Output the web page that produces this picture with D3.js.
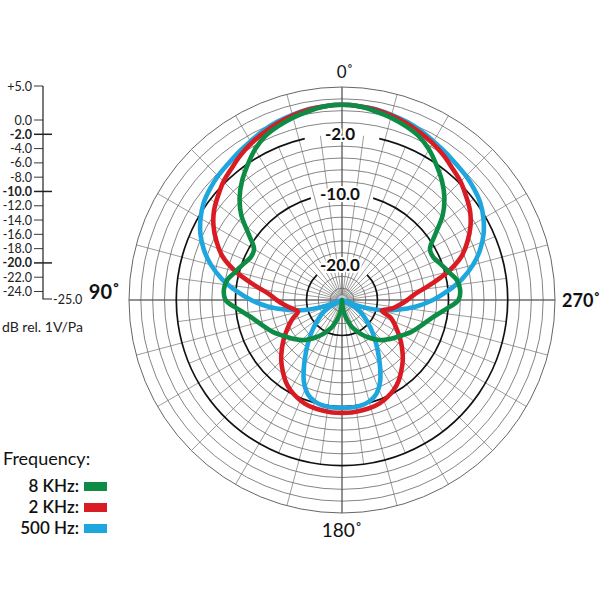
<!DOCTYPE html>
<html><head><meta charset="utf-8">
<script src="https://cdn.jsdelivr.net/npm/d3@7"></script>
<style>
body{margin:0;background:#fff}
svg{display:block;font-family:Lato,"Open Sans",sans-serif}
</style>
</head><body>
<svg id="chart" width="600" height="600"></svg>
<script>
// angles in degrees, measured from 0° (top) towards 90° (left)
const angles = [0,5,10,15,20,25,30,35,40,45,50,55,60,65,70,75,80,85,90,95,100,105,110,115,120,125,130,135,140,145,150,155,160,165,170,175,
  180,185,190,195,200,205,210,215,220,225,230,235,240,245,250,255,260,265,270,275,280,285,290,295,300,305,310,315,320,325,330,335,340,345,350,355];

const green8k = [2.5,2.4,2.0,1.6,1.1,0.5,-0.5,-1.8,-3.1,-4.6,-6.5,-9.0,-10.7,-10.8,-10.2,-9.5,-8.6,-8.3,-8.6,-10.3,-11.8,-12.8,-13.6,-14.3,-15.1,-15.8,-16.4,-17.0,-17.8,-18.6,-19.4,-20.2,-21.0,-22.0,-23.0,-24.0,
  -25.0,-24.0,-23.0,-22.0,-21.0,-20.2,-19.4,-18.6,-17.8,-17.0,-16.4,-15.8,-15.1,-14.3,-13.6,-12.8,-11.8,-10.3,-8.6,-8.3,-8.6,-9.5,-10.2,-10.8,-10.7,-9.0,-6.5,-4.6,-3.1,-1.8,-0.5,0.5,1.1,1.6,2.0,2.4];

const red2k = [2.5,2.4,2.2,1.9,1.5,1.0,0.5,-0.1,-0.8,-1.4,-2.2,-3.0,-4.1,-5.5,-7.1,-9.5,-12.3,-14.6,-15.8,-16.9,-17.9,-18.6,-17.7,-16.8,-15.9,-14.9,-13.9,-12.9,-12.0,-11.1,-10.4,-9.9,-9.5,-9.3,-9.2,-9.1,
  -9.1,-9.1,-9.2,-9.3,-9.5,-9.9,-10.4,-11.1,-12.0,-12.9,-13.9,-14.9,-15.9,-16.8,-17.7,-19.2,-17.9,-16.9,-15.8,-14.6,-12.3,-9.5,-7.1,-5.5,-4.1,-3.0,-2.2,-1.4,-0.8,-0.1,0.5,1.0,1.5,1.9,2.2,2.4];

const blue500 = [2.5,2.4,2.3,2.0,1.7,1.3,0.8,0.4,0.0,-0.3,-0.7,-1.2,-2.0,-3.0,-4.3,-5.9,-7.8,-10.0,-12.2,-14.5,-17.1,-19.6,-22.8,-25.0,-22.5,-21.5,-20.5,-19.2,-17.8,-16.2,-14.3,-12.3,-10.9,-10.2,-9.9,-9.8,
  -9.8,-9.8,-9.9,-10.2,-10.9,-12.3,-14.3,-16.2,-17.8,-19.2,-20.5,-21.5,-22.5,-25.0,-22.8,-19.6,-17.1,-14.5,-12.2,-10.0,-7.8,-5.9,-4.3,-3.0,-2.0,-1.2,-0.7,-0.3,0.0,0.4,0.8,1.3,1.7,2.0,2.3,2.4];

const seriesNames = ["8 KHz:", "2 KHz:", "500 Hz:"];
const seriesColors = ["#0d8c45", "#d91c24", "#1ea6de"];

const scaleTicks = ["+5.0","0.0","-2.0","-4.0","-6.0","-8.0","-10.0","-12.0","-14.0","-16.0","-18.0","-20.0","-22.0","-24.0"];
const scaleTickPos = [5,0,-2,-4,-6,-8,-10,-12,-14,-16,-18,-20,-22,-24];
const majorTicks = ["-2.0","-10.0","-20.0"];
const ringLabels = ["-2.0","-10.0","-20.0"];
const ringIndex = [14, 9, 3];       // which grid ring carries the bold label
const ringCount = 18;
const angleLabels = ["0˚","90˚","180˚","270˚"];

const svg = d3.select("#chart");
const cx = 342, cy = 300, R = 213;
const r = d3.scaleLinear().domain([-25, 5]).range([0, R]);
const ringDb = d3.range(1, ringCount + 1).map(k => -25 + k * 30 / ringCount);

const g = svg.append("g").attr("transform", `translate(${cx},${cy})`);

// spokes: every 15° full length, extra ones at 7.5° inside the -2 ring
const spokes = g.append("g").attr("stroke", "#858585").attr("stroke-width", 0.8);
for (let a = 0; a < 360; a += 7.5) {
  const full = a % 15 === 0;
  const rr = full ? R : r(ringDb[13]);
  const t = a * Math.PI / 180;
  spokes.append("line").attr("x1", 0).attr("y1", 0)
    .attr("x2", rr * Math.sin(t)).attr("y2", -rr * Math.cos(t));
}
// rings
g.append("g").selectAll("circle").data(ringDb).join("circle")
  .attr("r", d => r(d)).attr("fill", "none")
  .attr("stroke", (d, i) => ringIndex.includes(i + 1) ? "none" : "#666")
  .attr("stroke-width", (d, i) => i + 1 === ringCount ? 1 : 0.8);

// axes lines
g.append("line").attr("x1", -R).attr("x2", R).attr("y1", 0).attr("y2", 0).attr("stroke", "#555").attr("stroke-width", 1);
g.append("line").attr("x1", 0).attr("x2", 0).attr("y1", -R).attr("y2", R).attr("stroke", "#555").attr("stroke-width", 1);

// black labelled rings with gaps near the label
const gaps = [13, 17, 45];
const arc = d3.arc();
ringIndex.forEach((k, i) => {
  const rad = r(ringDb[k - 1]);
  const gap = gaps[i] * Math.PI / 180;
  g.append("path").attr("d", arc({innerRadius: rad, outerRadius: rad, startAngle: gap, endAngle: 2 * Math.PI - gap}))
    .attr("fill", "none").attr("stroke", "#111").attr("stroke-width", 1.7);
});

// centre dot
g.append("circle").attr("r", 5).attr("fill", "#d0d0d0").attr("stroke", "#888").attr("stroke-width", 0.6);

// ring labels (with white halo)
ringIndex.forEach((k, i) => {
  const rad = r(ringDb[k - 1]);
  g.append("text").attr("x", -2).attr("y", -rad + 6).attr("text-anchor", "middle")
    .attr("font-size", 17).attr("font-weight", 700).attr("fill", "#111")
    .attr("stroke", "#fff").attr("stroke-width", 4).attr("paint-order", "stroke")
    .text(ringLabels[i]);
});

// curves
const line = d3.lineRadial()
  .angle(d => -d[0] * Math.PI / 180)
  .radius(d => r(d[1]))
  .curve(d3.curveCatmullRomClosed.alpha(0.5));
const allSeries = [green8k, red2k, blue500];
[2, 1, 0].forEach(i => {
  g.append("path").attr("d", line(angles.map((a, j) => [a, allSeries[i][j]])))
    .attr("fill", "none").attr("stroke", seriesColors[i]).attr("stroke-width", 4.6)
    .attr("stroke-linejoin", "round");
});

// angle labels
svg.append("text").attr("x", 345).attr("y", 78).attr("text-anchor", "middle").attr("font-size", 17).attr("fill", "#111").text(angleLabels[0]);
svg.append("text").attr("x", 120).attr("y", 299).attr("text-anchor", "end").attr("font-size", 20).attr("font-weight", 700).attr("fill", "#111").text(angleLabels[1]);
svg.append("text").attr("x", 342).attr("y", 537).attr("text-anchor", "middle").attr("font-size", 19).attr("fill", "#111").text(angleLabels[2]);
svg.append("text").attr("x", 562).attr("y", 307).attr("text-anchor", "start").attr("font-size", 18).attr("font-weight", 700).attr("fill", "#111").text(angleLabels[3]);

// left dB scale
const ys = d3.scaleLinear().domain([5, 0, -24, -25]).range([86, 120, 291.5, 299]);
const sc = svg.append("g");
sc.append("path").attr("d", `M43,${ys(5)}V${ys(-25)}H52`).attr("fill", "none").attr("stroke", "#222").attr("stroke-width", 1.2);
scaleTicks.forEach((t, i) => {
  const y = ys(scaleTickPos[i]);
  const major = majorTicks.includes(t);
  sc.append("line").attr("x1", 34).attr("x2", major ? 52 : 43).attr("y1", y).attr("y2", y)
    .attr("stroke", "#222").attr("stroke-width", major ? 1.5 : 0.9);
  sc.append("text").attr("x", 32).attr("y", y + 4.5).attr("text-anchor", "end")
    .attr("font-size", 12.5).attr("font-weight", major ? 700 : 400).attr("fill", "#222").text(t);
});
sc.append("text").attr("x", 53).attr("y", 303.5).attr("font-size", 12.5).attr("fill", "#222").text("-25.0");
svg.append("text").attr("x", 2).attr("y", 332).attr("font-size", 14).attr("fill", "#222").text("dB rel. 1V/Pa");

// legend
svg.append("text").attr("x", 3).attr("y", 465).attr("font-size", 18).attr("fill", "#111").text("Frequency:");
seriesNames.forEach((n, i) => {
  const y = 492 + i * 21;
  svg.append("text").attr("x", 79).attr("y", y).attr("text-anchor", "end").attr("font-size", 17)
    .attr("font-weight", 600).attr("fill", "#111").text(n);
  svg.append("rect").attr("x", 84).attr("y", y - 10).attr("width", 23).attr("height", 9).attr("fill", seriesColors[i]);
});
</script>
</body></html>
